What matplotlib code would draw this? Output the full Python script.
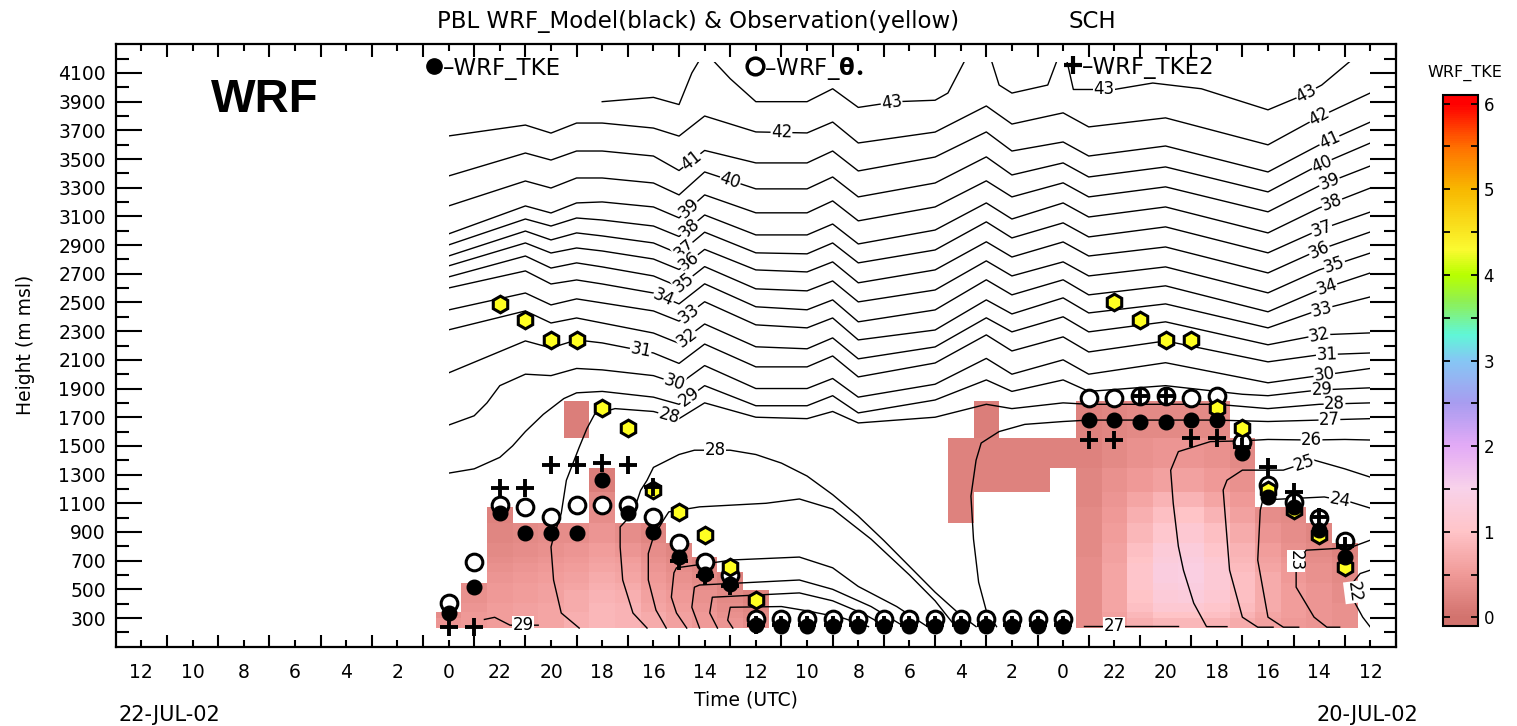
import numpy as np
import matplotlib
matplotlib.use("Agg")
import matplotlib.pyplot as plt
from matplotlib.colors import LinearSegmentedColormap, Normalize
from matplotlib.patches import Rectangle

plt.rcParams['font.family'] = ['DejaVu Sans']

# hours counted from 20-JUL-02 00 UTC, time axis runs backwards (22-JUL 12 -> 20-JUL 12)
tick_hours = list(range(12, 61, 2))
height_ticks = list(range(300, 4101, 200))

# ---- WRF TKE (m2/s2), one column per hour, layers bottom -> top ----
tke_layer_edges = [230, 300, 345, 404, 495, 543, 622, 683, 727, 822, 962, 1073, 1178, 1345, 1554, 1815]
N = None
tke_columns = {
    48: [0.45, 0.35],
    47: [0.5, 0.5, 0.45, 0.4, 0.35],
    46: [0.55, 0.55, 0.55, 0.5, 0.5, 0.45, 0.4, 0.35, 0.3, 0.25, 0.2],
    45: [0.6, 0.6, 0.6, 0.55, 0.55, 0.5, 0.45, 0.4, 0.35, 0.3],
    44: [0.65, 0.65, 0.65, 0.6, 0.6, 0.55, 0.5, 0.45, 0.4, 0.35],
    43: [0.75, 0.75, 0.7, 0.7, 0.65, 0.6, 0.55, 0.5, 0.45, 0.35, N, N, N, N, 0.15],
    42: [0.85, 0.85, 0.85, 0.8, 0.75, 0.7, 0.65, 0.6, 0.55, 0.45, 0.35, 0.3, 0.15],
    41: [0.8, 0.8, 0.8, 0.75, 0.7, 0.65, 0.6, 0.55, 0.45, 0.35],
    40: [0.7, 0.7, 0.65, 0.6, 0.55, 0.5, 0.45, 0.4, 0.35, 0.25],
    39: [0.6, 0.6, 0.55, 0.5, 0.45, 0.4, 0.35, 0.3, 0.25],
    38: [0.5, 0.5, 0.45, 0.4, 0.35, 0.3, 0.25, 0.2],
    37: [0.45, 0.4, 0.35, 0.3, 0.25, 0.2],
    36: [0.35, 0.3, 0.25, 0.2],
    28: [N, N, N, N, N, N, N, N, N, N, 0.2, 0.2, 0.2, 0.2],
    27: [N, N, N, N, N, N, N, N, N, N, N, N, 0.2, 0.2, 0.15],
    26: [N, N, N, N, N, N, N, N, N, N, N, N, 0.2, 0.2],
    25: [N, N, N, N, N, N, N, N, N, N, N, N, 0.2, 0.2],
    24: [N, N, N, N, N, N, N, N, N, N, N, N, N, 0.2],
    23: [0.35, 0.35, 0.35, 0.35, 0.35, 0.35, 0.35, 0.35, 0.3, 0.3, 0.3, 0.25, 0.25, 0.2, 0.2],
    22: [0.55, 0.6, 0.65, 0.65, 0.65, 0.65, 0.65, 0.6, 0.6, 0.55, 0.5, 0.45, 0.4, 0.3, 0.25],
    21: [0.75, 0.85, 0.95, 1.0, 1.05, 1.05, 1.05, 1.0, 0.95, 0.85, 0.75, 0.65, 0.5, 0.4, 0.3],
    20: [0.85, 1.0, 1.15, 1.25, 1.3, 1.35, 1.35, 1.3, 1.25, 1.1, 0.95, 0.8, 0.6, 0.45, 0.3],
    19: [0.85, 1.0, 1.15, 1.3, 1.35, 1.4, 1.4, 1.35, 1.3, 1.15, 1.0, 0.8, 0.6, 0.45, 0.3],
    18: [0.8, 0.95, 1.05, 1.15, 1.2, 1.2, 1.2, 1.15, 1.05, 0.95, 0.8, 0.65, 0.5, 0.4, 0.3],
    17: [0.7, 0.8, 0.9, 0.95, 0.95, 0.95, 0.9, 0.85, 0.8, 0.7, 0.6, 0.5, 0.4, 0.3],
    16: [0.6, 0.65, 0.7, 0.7, 0.7, 0.7, 0.65, 0.6, 0.55, 0.45, 0.35],
    15: [0.5, 0.55, 0.55, 0.55, 0.55, 0.5, 0.5, 0.45, 0.4, 0.35, 0.3],
    14: [0.45, 0.45, 0.45, 0.45, 0.45, 0.4, 0.4, 0.35, 0.3, 0.25],
    13: [0.4, 0.4, 0.4, 0.35, 0.35, 0.3, 0.3, 0.25, 0.2],
}

# ---- potential temperature isentropes: heights (m) of each level ----
key_hours = [48, 45, 44, 43, 42, 40, 39, 38, 36, 34, 33, 32, 29, 27, 26, 24, 23, 20, 16, 14, 12]
th42 = [3661, 3737, 3681, 3751, 3751, 3716, 3660, 3800, 3689, 3682, 3758, 3612, 3688, 3870, 3744, 3822, 3724, 3787, 3599, 3794, 3961]
th41 = [3382, 3542, 3493, 3556, 3556, 3521, 3420, 3560, 3473, 3473, 3556, 3417, 3514, 3689, 3556, 3619, 3521, 3591, 3410, 3598, 3758]
th40 = [3173, 3347, 3298, 3368, 3368, 3333, 3250, 3410, 3292, 3292, 3375, 3236, 3333, 3515, 3389, 3473, 3375, 3445, 3271, 3459, 3612]
th39 = [2978, 3173, 3124, 3194, 3201, 3166, 3090, 3250, 3125, 3125, 3208, 3069, 3166, 3348, 3236, 3334, 3236, 3306, 3132, 3313, 3452]
th38 = [2901, 3082, 3033, 3089, 3075, 3033, 2960, 3110, 2971, 2971, 3047, 2908, 3005, 3194, 3082, 3194, 3096, 3166, 2985, 3159, 3298]
th37 = [2824, 2998, 2936, 2985, 2964, 2915, 2840, 2990, 2846, 2839, 2915, 2776, 2866, 3062, 2950, 3055, 2957, 3027, 2846, 3006, 3131]
th36 = [2755, 2915, 2845, 2880, 2859, 2803, 2730, 2870, 2727, 2713, 2783, 2637, 2727, 2923, 2817, 2922, 2824, 2887, 2706, 2867, 2992]
th35 = [2678, 2824, 2740, 2776, 2748, 2685, 2610, 2750, 2595, 2581, 2650, 2504, 2587, 2790, 2685, 2783, 2685, 2748, 2567, 2727, 2845]
th34 = [2601, 2720, 2629, 2657, 2629, 2566, 2490, 2630, 2470, 2449, 2518, 2365, 2448, 2658, 2553, 2658, 2553, 2616, 2435, 2588, 2706]
th33 = [2448, 2566, 2483, 2525, 2497, 2441, 2370, 2505, 2344, 2323, 2392, 2239, 2308, 2518, 2420, 2532, 2427, 2490, 2323, 2448, 2539]
th32 = [2309, 2441, 2357, 2392, 2357, 2287, 2215, 2350, 2191, 2177, 2253, 2107, 2190, 2393, 2295, 2400, 2295, 2365, 2205, 2274, 2288]
th31 = [2009, 2232, 2183, 2239, 2218, 2148, 2075, 2210, 2051, 2051, 2127, 1981, 2078, 2274, 2162, 2260, 2155, 2232, 2086, 2135, 2148]

# (level, hours, heights, label positions given as ('h', hour) or ('z', height))
isentropes = [
    (43, [42, 40, 39, 38.5, 38, 37, 36, 34, 33, 32, 30.5, 29, 28.5, 27.8, 27, 26.5, 26, 24.6, 24, 23.6, 22, 20.5, 18.6, 16, 14.7, 13.9, 12],
         [3900, 3930, 3880, 4100, 4250, 4060, 3900, 3900, 3990, 3860, 3900, 3910, 3960, 4200, 4300, 4016, 3960, 4016, 4300, 3985, 3985, 4030, 3990, 3843, 3940, 4016, 4300],
         [('h', 30.7), ('h', 22.4), ('h', 14.5)]),
    (42, key_hours, th42, [('h', 35.0), ('h', 14.0)]),
    (41, key_hours, th41, [('h', 38.5), ('h', 13.6)]),
    (40, key_hours, th40, [('h', 37.0), ('h', 13.9)]),
    (39, key_hours, th39, [('h', 38.6), ('h', 13.6)]),
    (38, key_hours, th38, [('h', 38.6), ('h', 13.5)]),
    (37, key_hours, th37, [('h', 38.8), ('h', 13.9)]),
    (36, key_hours, th36, [('h', 38.6), ('h', 14.0)]),
    (35, key_hours, th35, [('h', 38.8), ('h', 13.4)]),
    (34, key_hours, th34, [('h', 39.6), ('h', 13.7)]),
    (33, key_hours, th33, [('h', 38.6), ('h', 13.9)]),
    (32, key_hours, th32, [('h', 38.7), ('h', 14.0)]),
    (31, key_hours, th31, [('h', 40.5), ('h', 13.7)]),
    (30, [48, 47, 46.5, 46, 45, 44, 43, 42, 40, 39, 38, 36, 34, 33, 32, 29, 27, 26, 24, 23, 20, 16, 14, 12],
         [1645, 1710, 1800, 1920, 2000, 1990, 2040, 2030, 1990, 1930, 2060, 1900, 1900, 1970, 1840, 1930, 2110, 2000, 2100, 2000, 2080, 1940, 1990, 2040],
         [('h', 39.2), ('h', 13.8)]),
    (29, [48, 47, 46, 45.5, 45, 44.3, 43.5, 43, 42, 40, 39, 38, 36, 34, 33, 32, 29, 27, 26, 24, 23, 20, 17, 16, 14, 12],
         [1310, 1340, 1420, 1500, 1600, 1720, 1830, 1870, 1880, 1840, 1790, 1920, 1780, 1780, 1850, 1730, 1820, 1960, 1880, 1960, 1880, 1920, 1860, 1850, 1890, 1905],
         [('h', 38.6), ('h', 13.9)]),
    (28, [42.9, 43.6, 43.9, 44.0, 43.9, 43.6, 43.4, 42.9, 42.6, 42.3, 41.5, 40, 39, 38, 36, 34, 33, 32, 29, 27, 26, 24, 23, 18, 16, 14, 12],
         [230, 335, 565, 795, 865, 1030, 1260, 1490, 1620, 1720, 1760, 1740, 1690, 1800, 1700, 1690, 1740, 1660, 1700, 1790, 1760, 1800, 1790, 1790, 1760, 1790, 1800],
         [('h', 39.4), ('h', 13.4)]),
    (28, [40.25, 40.8, 41.2, 41.3, 41.3, 40.8, 40.5, 40.25, 40.0, 39, 38.4, 37, 36, 35, 34, 33, 32, 31, 30, 29, 28, 27.4],
         [230, 335, 565, 795, 935, 1030, 1190, 1260, 1350, 1440, 1470, 1470, 1440, 1380, 1290, 1160, 1010, 840, 660, 480, 320, 240],
         [('h', 37.6)]),
    (27, [39.5, 39.9, 40.2, 40.2, 40.0, 39.6, 39.4, 38.2, 35.6, 34.3, 33, 31.5, 30, 29, 28.2],
         [230, 355, 565, 750, 865, 985, 1040, 1075, 1100, 1130, 1060, 850, 600, 420, 240], []),
    (26, [38.7, 39.1, 39.3, 39.2, 39.1, 36.9, 34.3, 33, 32, 30.5, 29.3],
         [230, 335, 445, 615, 650, 705, 725, 650, 520, 380, 240], []),
    (25, [38.2, 38.5, 38.4, 38.2, 34.3, 33, 31.5, 30.2],
         [230, 375, 515, 530, 565, 500, 380, 240], []),
    (24, [37.5, 37.8, 37.7, 34.3, 33, 31.8, 30.9],
         [230, 335, 445, 475, 420, 330, 240], []),
    (23, [36.9, 37.1, 37.0, 35, 34, 32.6, 31.6],
         [230, 285, 375, 380, 350, 300, 240], []),
    (27, [12, 14, 16, 18, 23, 24, 25.5, 26.5, 27.2, 27.4, 27.6, 27.5, 27.3, 27.0, 26.6],
         [1690, 1680, 1670, 1680, 1680, 1670, 1650, 1600, 1520, 1400, 1150, 850, 550, 350, 240],
         [('h', 13.6)]),
    (26, [12, 13, 14.3, 16, 17, 18.25, 19.5, 19.8, 19.7, 19.5, 19.3, 18.9, 18.4, 17.6],
         [1541, 1545, 1541, 1545, 1535, 1530, 1460, 1330, 1100, 800, 633, 404, 240, 240],
         [('h', 14.3)]),
    (25, [12, 13, 14.2, 15.4, 17, 17.6, 17.75, 17.5, 17, 16.4, 15.8],
         [1282, 1340, 1401, 1331, 1331, 1261, 1192, 634, 306, 236, 236],
         [('h', 14.6)]),
    (24, [12, 12.8, 13.8, 16.2, 16.3, 16.4, 16, 15.4, 14.8],
         [1066, 1110, 1144, 1123, 1053, 704, 306, 236, 236],
         [('h', 13.2)]),
    (23, [12, 12.8, 14.5, 14.9, 14.9, 14.2, 13.7, 13.2],
         [843, 790, 773, 703, 515, 306, 236, 236],
         [('z', 700)]),
    (22, [12, 12.4, 12.7, 12.6, 12.3, 12],
         [634, 610, 543, 404, 306, 236],
         [('z', 480)]),
    (27, [23.2, 19.5], [245, 245], [('h', 22.0)]),
    (29, [46.6, 46.2, 45.6, 44.5], [290, 305, 250, 250], [('h', 45.1)]),
]

# ---- PBL heights (m) ----
pbl_hours = [48, 47, 46, 45, 44, 43, 42, 41, 40, 39, 38, 37, 36, 35, 34, 33, 32, 31, 30, 29, 28, 27, 26, 25, 24,
             23, 22, 21, 20, 19, 18, 17, 16, 15, 14, 13]
pbl_tke = [337, 515, 1031, 891, 891, 891, 1262, 1031, 897, 725, 605, 535, 250, 245, 245, 245, 245, 245, 245, 245, 245, 245, 245, 245, 245,
           1680, 1680, 1666, 1666, 1680, 1680, 1450, 1143, 1073, 912, 724]
pbl_theta = [405, 690, 1087, 1073, 1003, 1087, 1087, 1087, 1003, 822, 690, 600, 290, 290, 290, 290, 290, 290, 290, 290, 290, 290, 290, 290, 290,
             1835, 1835, 1850, 1850, 1835, 1850, 1527, 1227, 1110, 996, 840]
pbl_tke2 = [240, 240, 1206, 1206, 1366, 1366, 1380, 1366, 1213, 700, 590, 520, 250, 250, 250, 250, 250, 250, 250, 250, 250, 250, 250, 250, 250,
            1541, 1541, 1850, 1850, 1554, 1554, 1490, 1352, 1178, 1003, 800]
obs_hours = [46, 45, 44, 43, 42, 41, 40, 39, 38, 37, 36, 22, 21, 20, 19, 18, 17, 16, 15, 14, 13]
obs_pbl = [2489, 2378, 2238, 2238, 1764, 1625, 1192, 1039, 879, 656, 425, 2503, 2378, 2238, 2238, 1764, 1625, 1192, 1053, 879, 656]

# ---- colour table ----
cmap_values = [0, 0.5, 1.0, 1.5, 2.0, 2.5, 3.0, 3.3, 3.7, 4.0, 4.3, 5.0, 5.5, 6.0]
cmap_colors = ['#d2736e', '#f09a98', '#ffc4c8', '#f8d2ea', '#e3aaf6', '#a89cf0', '#86c6f4',
               '#60f6d8', '#90f050', '#b8ff00', '#fafa30', '#f8b800', '#ff7000', '#ff0000']
vmin, vmax = -0.1, 6.1
cmap = LinearSegmentedColormap.from_list(
    'tke', [(0.0, cmap_colors[0])] + [((v - vmin) / (vmax - vmin), c) for v, c in zip(cmap_values, cmap_colors)]
    + [(1.0, cmap_colors[-1])])
norm = Normalize(vmin, vmax)

# ---- figure ----
fig = plt.figure(figsize=(15.17, 7.26), dpi=100)
W, H = 1517, 726
ax = fig.add_axes([115.7 / W, 1 - 646.7 / H, (1396 - 115.7) / W, (646.7 - 44.3) / H])
ax.set_xlim(61, 11)
ax.set_ylim(100, 4300)

# TKE mesh
hours = list(range(min(tke_columns), max(tke_columns) + 1))
nlay = len(tke_layer_edges) - 1
grid = np.full((nlay, len(hours)), np.nan)
for j, h in enumerate(hours):
    for i, v in enumerate(tke_columns.get(h, [])):
        if v is not None:
            grid[i, j] = v
x_edges = np.concatenate([np.array(hours) - 0.5, [hours[-1] + 0.5]])
mesh = ax.pcolormesh(x_edges, tke_layer_edges, np.ma.masked_invalid(grid),
                     cmap=cmap, norm=norm, shading='flat', zorder=1)

# isentropes
clip = Rectangle((12, 0), 36, 4180, transform=ax.transData)
fig.canvas.draw()
for level, hs, zs, labels in isentropes:
    line, = ax.plot(hs, zs, color='black', lw=1.0, zorder=2)
    line.set_clip_path(clip)
    pts = ax.transData.transform(np.column_stack([hs, zs]))
    for key, value in labels:
        arr = np.array(hs if key == 'h' else zs, float)
        for i in range(len(arr) - 1):
            a, b = arr[i], arr[i + 1]
            if a != b and (a - value) * (b - value) <= 0:
                f = (value - a) / (b - a)
                p = pts[i] + f * (pts[i + 1] - pts[i])
                d = pts[i + 1] - pts[i]
                ang = np.degrees(np.arctan2(d[1], d[0]))
                if ang > 90:
                    ang -= 180
                if ang < -90:
                    ang += 180
                hx, zy = ax.transData.inverted().transform(p)
                ax.text(hx, zy, str(level), fontsize=12, rotation=ang, rotation_mode='anchor',
                        ha='center', va='center', zorder=3,
                        bbox=dict(facecolor='white', edgecolor='none', pad=0.2))
                break

# PBL markers
ax.plot(pbl_hours, pbl_theta, 'o', ms=12, mfc='white', mec='black', mew=2.2, ls='none', zorder=4)
ax.plot(obs_hours, obs_pbl, 'h', ms=12, mfc='#ffff22', mec='black', mew=2.2, ls='none', zorder=5)
ax.plot(pbl_hours, pbl_tke, 'o', ms=10.5, mfc='black', mec='black', ls='none', zorder=6)
ax.plot(pbl_hours, pbl_tke2, '+', ms=13, mec='black', mew=2.8, ls='none', zorder=7)

# legend row inside the frame
lx = ax.transAxes
ax.plot([0.2486], [0.964], 'o', ms=11, color='black', transform=lx, clip_on=False, zorder=8)
ax.text(0.2555, 0.960, '\u2013WRF_TKE', transform=lx, fontsize=16.5, va='center', ha='left')
ax.plot([0.4993], [0.964], 'o', ms=12, mfc='white', mec='black', mew=2.5, transform=lx, clip_on=False, zorder=8)
ax.text(0.5065, 0.960, '\u2013WRF_$\\mathbf{\\theta}_{\\bullet}$', transform=lx, fontsize=16.5, va='center', ha='left')
ax.plot([0.7478], [0.966], '+', ms=13, mec='black', mew=3, transform=lx, clip_on=False, zorder=8)
ax.text(0.755, 0.962, '\u2013WRF_TKE2', transform=lx, fontsize=16.5, va='center', ha='left')
ax.text(0.1166, 0.9075, 'WRF', transform=lx, fontsize=34, fontweight='bold',
        family=['Liberation Sans', 'DejaVu Sans'], ha='center', va='center')

# axes, ticks
for s in ax.spines.values():
    s.set_linewidth(1.6)
ax.set_xticks(tick_hours)
ax.set_xticklabels([str(h % 24) for h in tick_hours])
ax.set_xticks([h + 1 for h in tick_hours[:-1]] + [11], minor=True)
ax.set_yticks(height_ticks)
ax.set_yticks(list(range(200, 4300, 200)), minor=True)
ax.tick_params(axis='x', which='major', direction='in', length=5, width=1.5,
               top=True, bottom=True, labelsize=13.5, pad=12)
ax.tick_params(axis='x', which='minor', direction='in', length=9, width=1.5, top=True, bottom=True)
ax.tick_params(axis='y', which='major', direction='in', length=19, width=1.5,
               left=True, right=True, labelsize=13.5, pad=7)
ax.tick_params(axis='y', which='minor', direction='in', length=9, width=1.5, left=True, right=True)

# texts
fig.text(0.460, 0.970, 'PBL WRF_Model(black) & Observation(yellow)', ha='center', va='center', fontsize=16.5)
fig.text(0.7198, 0.970, 'SCH', ha='center', va='center', fontsize=16.5)
fig.text(0.0165, 0.525, 'Height (m msl)', rotation=90, ha='center', va='center', fontsize=13.5)
fig.text(0.4918, 0.0358, 'Time (UTC)', ha='center', va='center', fontsize=13.5)
fig.text(0.0778, 0.0152, '22-JUL-02', ha='left', va='center', fontsize=15)
fig.text(0.868, 0.0152, '20-JUL-02', ha='left', va='center', fontsize=15)

# colour bar
cax = fig.add_axes([1443 / W, 1 - 626 / H, 35 / W, 531 / H])
cb = fig.colorbar(mesh, cax=cax, ticks=list(range(7)))
cb.outline.set_linewidth(1.5)
cax.set_yticks(list(np.arange(0.5, 6, 1.0)), minor=True)
cax.tick_params(which='both', direction='in', left=True, right=True, length=5, width=1.3,
                labelsize=12, pad=4)
fig.text(1465 / W, 1 - 73 / H, 'WRF_TKE', ha='center', va='center', fontsize=11.5)

fig.savefig('out.png', dpi=100)
